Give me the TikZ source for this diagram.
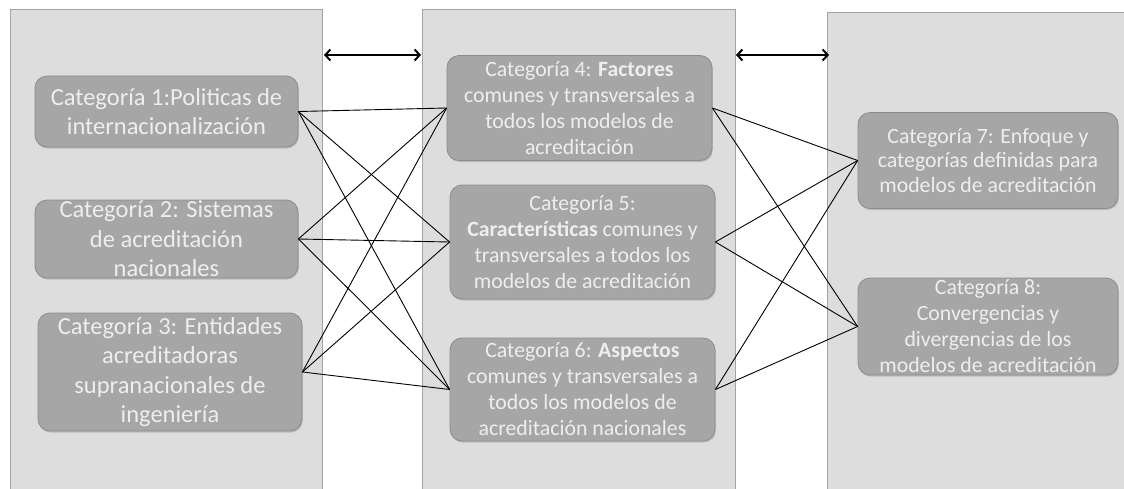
\documentclass[tikz,border=0pt]{standalone}
\usepackage{fontspec}
\setmainfont{Carlito}
\usetikzlibrary{arrows.meta,shadows}
\definecolor{panelfill}{HTML}{DDDDDD}
\definecolor{panelline}{HTML}{A3A3A3}
\definecolor{catfill}{HTML}{A6A6A6}
\definecolor{catline}{HTML}{8C8C8C}
\definecolor{cattext}{HTML}{EEEEEE}
\begin{document}
\begin{tikzpicture}[x=1pt,y=-1pt,
  panel/.style={draw=panelline, fill=panelfill, line width=1pt},
  cat/.style={draw=catline, fill=catfill, rounded corners=12pt, text=cattext,
    align=center, inner sep=0pt, line width=0.8pt,
    drop shadow={shadow xshift=0.8pt, shadow yshift=-1.6pt, opacity=0.35}},
  catL/.style={cat, font=\fontsize{24.5}{29.5}\selectfont},
  catM/.style={cat, font=\fontsize{21.8}{26}\selectfont},
  catR/.style={cat, font=\fontsize{21.8}{24.5}\selectfont},
  conn/.style={draw=black, line width=0.9pt},
  dbl/.style={draw=black, line width=2pt,
    {Straight Barb[length=5pt,width=11pt]}-{Straight Barb[length=5pt,width=11pt]}}
]
\useasboundingbox (0,0) rectangle (1124,488);
\clip (0,0) rectangle (1124,488);
\fill[white] (0,0) rectangle (1124,488);
% panels
\draw[panel] (10,9) rectangle (322,500);
\draw[panel] (422,9) rectangle (735,500);
\draw[panel] (827,12) rectangle (1130,500);
% arrows between panels
\coordinate (a1l) at (324,55);
\coordinate (a1r) at (421,55);
\coordinate (a2l) at (736,55);
\coordinate (a2r) at (829,55);
\draw[dbl] (a1l) -- (a1r);
\draw[dbl] (a2l) -- (a2r);
% left column
\node[catL, minimum width=263pt, minimum height=71pt] (c1) at (166.5,111.5)
  {Categoría 1:Politicas de\\internacionalización};
\node[catL, minimum width=263pt, minimum height=78pt] (c2) at (166.5,239)
  {Categoría 2: Sistemas\\de acreditación\\nacionales};
\node[catL, minimum width=264pt, minimum height=118pt] (c3) at (170,372)
  {Categoría 3: Entidades\\acreditadoras\\supranacionales de\\ingeniería};
% middle column
\node[catM, minimum width=265pt, minimum height=105pt] (c4) at (579.5,108)
  {Categoría 4: \textbf{Factores}\\comunes y transversales a\\todos los modelos de\\acreditación};
\node[catM, minimum width=265pt, minimum height=114pt] (c5) at (582.5,242)
  {Categoría 5:\\\textbf{Características} comunes y\\transversales a todos los\\modelos de acreditación};
\node[catM, minimum width=265pt, minimum height=103pt] (c6) at (582.5,389.5)
  {Categoría 6: \textbf{Aspectos}\\comunes y transversales a\\todos los modelos de\\acreditación nacionales};
% right column
\node[catR, minimum width=260pt, minimum height=96pt] (c7) at (988,160.5)
  {Categoría 7: Enfoque y\\categorías definidas para\\modelos de acreditación};
\node[catM, minimum width=260pt, minimum height=97pt] (c8) at (988,326.5)
  {Categoría 8:\\Convergencias y\\divergencias de los\\modelos de acreditación};
% connectors left -> middle
\foreach \a in {c1,c2,c3}{
  \foreach \b in {c4,c5,c6}{
    \draw[conn] (\a.east) -- (\b.west);
  }
}
% connectors middle -> right
\foreach \a in {c4,c5,c6}{
  \foreach \b in {c7,c8}{
    \draw[conn] (\a.east) -- (\b.west);
  }
}
\end{tikzpicture}
\end{document}
